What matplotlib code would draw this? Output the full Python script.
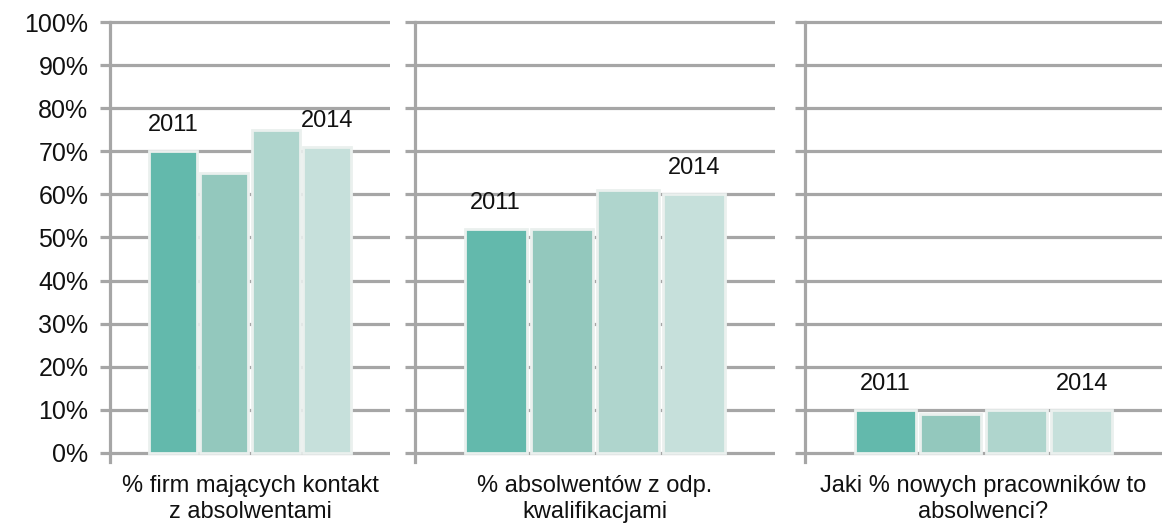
import numpy as np
import matplotlib
matplotlib.use("Agg")
import matplotlib.pyplot as plt

plt.rcParams['font.family'] = ['Liberation Sans', 'DejaVu Sans']

# data (percent)
categories = ["% firm mających kontakt\nz absolwentami",
              "% absolwentów z odp.\nkwalifikacjami",
              "Jaki % nowych pracowników to\nabsolwenci?"]
years = ["2011", "2012", "2013", "2014"]
contact = [70, 65, 75, 71]
qualified = [52, 52, 61, 60]
new_staff = [10, 9, 10, 10]
ytick_labels = ["0%", "10%", "20%", "30%", "40%", "50%", "60%", "70%", "80%", "90%", "100%"]

colors = ["#63b9ac", "#93c8bd", "#afd5cd", "#c6e0db"]
grid_col = "#a6a6a6"

W, H = 1169, 531
fig = plt.figure(figsize=(W / 100, H / 100), dpi=100)

# axes pixel spans (left, right)
spans = [(110, 390), (415, 775), (805, 1162)]
bottom = (H - 461.6) / H
top = (H - 17.7) / H

series = [contact, qualified, new_staff]
x = np.arange(len(years))

for i, (span, vals, cat) in enumerate(zip(spans, series, categories)):
    ax = fig.add_axes([span[0] / W, bottom, (span[1] - span[0]) / W, top - bottom])
    ax.set_ylim(-2, 101)
    ax.set_xlim(-1.22, 4.22)
    yt = np.arange(0, 101, 10)
    for y in yt:
        ax.axhline(y, color=grid_col, lw=2.3, zorder=1)
    ax.bar(x, vals, width=0.93, color=colors, edgecolor="#eaf0ee", linewidth=2, zorder=3)
    # year labels over first and last bar
    ax.text(x[0], vals[0] + 3.5, years[0], ha="center", va="bottom", fontsize=17, color="#111111", zorder=4)
    ax.text(x[-1], vals[-1] + 3.5, years[-1], ha="center", va="bottom", fontsize=17, color="#111111", zorder=4)

    for s in ["top", "right", "bottom"]:
        ax.spines[s].set_visible(False)
    ax.spines["left"].set_color(grid_col)
    ax.spines["left"].set_linewidth(2.3)
    ax.spines["left"].set_bounds(-2, 100)
    ax.set_xticks([])
    ax.set_yticks(yt)
    ax.tick_params(axis="y", length=7.5, width=2.3, color=grid_col, pad=8)
    if i == 0:
        ax.set_yticklabels(ytick_labels, fontsize=18, color="#111111")
    else:
        ax.set_yticklabels([])
    ax.text(0.5, -0.03, cat, transform=ax.transAxes, ha="center", va="top",
            fontsize=17, color="#111111", linespacing=1.25)

fig.savefig("out.png", dpi=100)
